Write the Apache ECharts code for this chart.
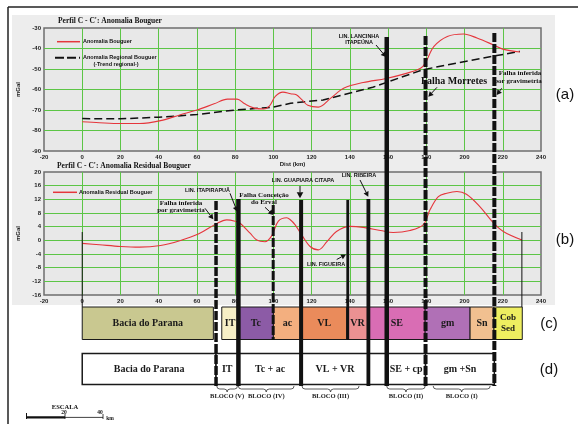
<!DOCTYPE html>
<html><head><meta charset="utf-8">
<script src="https://cdn.jsdelivr.net/npm/echarts@6/dist/echarts.min.js"></script>
<style>html,body{margin:0;padding:0;background:#fff}#c{width:578px;height:424px}</style>
</head><body><div id="c"></div><script>
// ---------------- DATA ----------------
const bouguerKm  = [0, 9, 20, 30, 41, 51, 60, 69, 76, 81, 85, 90, 95, 98, 101, 105, 109, 112, 115, 118, 123.5, 130, 137, 147, 159, 170, 177, 179.5, 184, 191, 199.5, 206.5, 215, 220, 229];
const bouguerVal = [-75.7, -76.2, -76.6, -76.6, -75.2, -72.4, -70, -67, -64.7, -64.7, -67, -69.1, -69.5, -68, -63.4, -61.3, -62.1, -62.6, -65.1, -67.7, -68.6, -64.2, -59.3, -56.6, -54.6, -52, -49.6, -47.1, -39, -34.1, -32.9, -34.9, -38.2, -40.3, -41.7];
const regionalKm  = [0, 20, 40, 50, 60, 80, 100, 109, 126, 152, 178, 203, 229];
const regionalVal = [-74.2, -74.3, -73.5, -72.9, -72.2, -70, -68.6, -66.7, -65.1, -58.9, -50.4, -45.8, -41.4];
const residualKm  = [0, 9, 20, 30, 41, 51, 61, 70, 75.6, 80, 82.6, 87.8, 91.3, 95.6, 99.1, 102.6, 107, 108.7, 111.3, 114.8, 119.2, 123.5, 128, 133, 140, 147, 156, 162.7, 171.5, 178.5, 182, 186.3, 190.7, 196, 201, 208, 215, 220.3, 230];
const residualVal = [-0.9, -1.3, -1.8, -2.0, -1.5, -0.1, 1.9, 4.8, 6.0, 5.6, 5.0, 2.1, 0.1, -0.4, 1.3, 5.6, 6.6, 6.1, 4.6, 1.6, -1.8, -2.8, -0.4, 2.6, 4.1, 3.8, 2.9, 2.3, 2.9, 4.6, 9.0, 12.8, 13.8, 14.3, 13.5, 9.9, 5.2, 2.6, 0.1];

const unitsC      = ['Bacia do Parana', 'IT', 'Tc', 'ac', 'VL', 'VR', 'SE', 'gm', 'Sn', 'Cob\nSed'];
const unitsCStart = [0, 73, 81.7, 100, 114.8, 138.4, 149.7, 179.4, 202.9, 215.4];
const unitsCEnd   = [68.6, 81.7, 100, 114.8, 138.4, 149.7, 179.4, 202.9, 215.4, 230.2];

const unitsD      = ['Bacia do Parana', 'IT', 'Tc + ac', 'VL + VR', '', 'SE + cp', 'gm +Sn'];
const unitsDStart = [0, 70, 81.7, 114.8, 149.7, 159.3, 179.6];
const unitsDEnd   = [70, 81.7, 114.8, 149.7, 159.3, 179.6, 215.6];

const blockNames = ['BLOCO (V)', 'BLOCO (IV)', 'BLOCO (III)', 'BLOCO (II)', 'BLOCO (I)'];
const blockStart = [70.4, 81.7, 115, 159.3, 183.6];
const blockEnd   = [81.2, 110.8, 144.8, 179.4, 213.4];

const faultKm = [0, 70, 81.7, 99.9, 114.5, 138.9, 149.7, 159.3, 179.6, 215.6, 230];

// ---------------- LAYOUT / STYLE ----------------
const GL = 44, GW = 497;
const A_TOP = 28, A_H = 123, B_TOP = 172, B_H = 123;
const C_TOP = 307, C_BOT = 339.5, D_TOP = 353.5, D_BOT = 384.5;
const faultTop    = [232, 201, 199, 205, 200, 200, 199, 37, 36, 33, 232];
const faultBottom = [307, 388, 386, 340, 386, 340, 386, 386, 386, 386, 307];
const faultWidth  = [1, 3.5, 4.5, 3, 4, 2.8, 3.8, 4.5, 4, 4, 1];
const faultDashed = [false, true, false, true, false, false, false, false, true, true, false];
const fillC = ['#c9c890', '#f6efc6', '#8c5ba6', '#f3af7f', '#ea8b5b', '#eb9192', '#d96db4', '#b070b6', '#f1c090', '#eeee60'];
const GREEN = '#5cc546';
const SERIF = "'Liberation Serif', 'DejaVu Serif', serif";
const SANS = "'Liberation Sans', Arial, sans-serif";

const pairs = (xs, ys) => xs.map((x, i) => [x, ys[i]]);

function xAx(grid, show, name) {
  return {
    gridIndex: grid, type: 'value', min: -20, max: 240, interval: 20, show: show, z: 3,
    axisLine: { show: false }, axisTick: { show: false },
    splitLine: { show: true, showMinLine: false, showMaxLine: false, lineStyle: { color: GREEN, width: 1 } },
    axisLabel: { fontSize: 6, fontWeight: 'bold', color: '#222', margin: 3, fontFamily: SANS, showMinLabel: true, showMaxLabel: true },
    name: name || '', nameLocation: 'middle', nameGap: 10,
    nameTextStyle: { fontSize: 6, fontWeight: 'bold', color: '#222', fontFamily: SANS }
  };
}
function yAx(grid, min, max, interval) {
  return {
    gridIndex: grid, type: 'value', min: min, max: max, interval: interval, z: 3,
    axisLine: { show: false }, axisTick: { show: false },
    splitLine: { show: true, showMinLine: false, showMaxLine: false, lineStyle: { color: GREEN, width: 1 } },
    axisLabel: { fontSize: 6, fontWeight: 'bold', color: '#222', margin: 3, fontFamily: SANS, showMinLabel: true, showMaxLabel: true },
    name: 'mGal', nameLocation: 'middle', nameRotate: 90, nameGap: 21,
    nameTextStyle: { fontSize: 6, fontWeight: 'bold', color: '#222', fontFamily: SANS }
  };
}

function rowRender(names, fills, yTop, yBot, font, lw) {
  return function (params, api) {
    const i = params.dataIndex;
    const p0 = api.coord([api.value(0), yTop]);
    const p1 = api.coord([api.value(1), yBot]);
    return { type: 'group', children: [
      { type: 'rect', shape: { x: p0[0], y: p0[1], width: p1[0] - p0[0], height: p1[1] - p0[1] },
        style: { fill: fills ? fills[i] : '#fff', stroke: '#1a1a1a', lineWidth: lw } },
      { type: 'text', style: { text: names[i], x: (p0[0] + p1[0]) / 2, y: (p0[1] + p1[1]) / 2,
        align: 'center', verticalAlign: 'middle', font: (names[i].indexOf('\n') >= 0 ? 'bold 9px ' + SERIF : font), fill: '#1a1a1a', lineHeight: 11 } }
    ] };
  };
}

function faultRender(params, api) {
  const i = params.dataIndex;
  const km = api.value(0);
  const t = api.coord([km, faultTop[i]]);
  const b = api.coord([km, faultBottom[i]]);
  return { type: 'line', shape: { x1: t[0], y1: t[1], x2: b[0], y2: b[1] },
    style: { stroke: '#111', lineWidth: faultWidth[i], lineDash: faultDashed[i] ? [9, 2] : null } };
}

function braceRender(params, api) {
  const i = params.dataIndex;
  const a = api.coord([api.value(0), 386]);
  const b = api.coord([api.value(1), 386]);
  const y0 = a[1], m = (a[0] + b[0]) / 2, y1 = y0 + 3, y2 = y0 + 6;
  const d = 'M' + a[0] + ',' + y0 + ' Q' + a[0] + ',' + y1 + ' ' + (a[0] + 3) + ',' + y1 +
    ' L' + (m - 3) + ',' + y1 + ' Q' + m + ',' + y1 + ' ' + m + ',' + y2 +
    ' Q' + m + ',' + y1 + ' ' + (m + 3) + ',' + y1 + ' L' + (b[0] - 3) + ',' + y1 +
    ' Q' + b[0] + ',' + y1 + ' ' + b[0] + ',' + y0;
  return { type: 'group', children: [
    { type: 'path', shape: { pathData: d }, style: { fill: null, stroke: '#333', lineWidth: 0.8 } },
    { type: 'text', style: { text: blockNames[i], x: m, y: y2 + 4, align: 'center', verticalAlign: 'middle',
      font: 'bold 6.5px ' + SERIF, fill: '#222' } }
  ] };
}

// annotation helpers
function txt(text, x, y, font, align) {
  return { type: 'text', z: 100, style: { text: text, x: x, y: y, font: font, fill: '#111', align: align || 'center', verticalAlign: 'middle' } };
}
function arrow(x1, y1, x2, y2, h) {
  h = h || 5;
  const ang = Math.atan2(y2 - y1, x2 - x1);
  const bx = x2 - h * Math.cos(ang), by = y2 - h * Math.sin(ang);
  const w = h * 0.55;
  return [
    { type: 'line', z: 100, shape: { x1: x1, y1: y1, x2: bx, y2: by }, style: { stroke: '#111', lineWidth: 1 } },
    { type: 'polygon', z: 100, shape: { points: [[x2, y2], [bx + w * Math.sin(ang), by - w * Math.cos(ang)], [bx - w * Math.sin(ang), by + w * Math.cos(ang)]] }, style: { fill: '#111' } }
  ];
}
const small = 'bold 5.5px ' + SANS;
const serif7 = 'bold 7px ' + SERIF;

const graphics = [
  { type: 'rect', z: -10, shape: { x: 12, y: 15, width: 543, height: 290 }, style: { fill: '#ededed' } },
  { type: 'line', z: 100, shape: { x1: 8, y1: 7, x2: 578, y2: 7 }, style: { stroke: '#222', lineWidth: 1.5 } },
  { type: 'line', z: 100, shape: { x1: 8, y1: 7, x2: 8, y2: 424 }, style: { stroke: '#222', lineWidth: 1.5 } },
  // titles
  txt("Perfil C - C': Anomalia Bouguer", 58, 21.5, 'bold 7.5px ' + SERIF, 'left'),
  txt("Perfil C - C': Anomalia Residual Bouguer", 57, 166.5, 'bold 7.5px ' + SERIF, 'left'),
  // legends
  { type: 'line', z: 100, shape: { x1: 57, y1: 41.7, x2: 80, y2: 41.7 }, style: { stroke: '#e5363c', lineWidth: 1.5 } },
  txt('Anomalia Bouguer', 83, 41.7, small, 'left'),
  { type: 'line', z: 100, shape: { x1: 55, y1: 57.7, x2: 80, y2: 57.7 }, style: { stroke: '#111', lineWidth: 2, lineDash: [9, 3] } },
  txt('Anomalia Regional Bouguer', 83, 57.5, small, 'left'),
  txt('(-Trend regional-)', 116, 64, small, 'center'),
  { type: 'line', z: 100, shape: { x1: 53, y1: 192.3, x2: 77, y2: 192.3 }, style: { stroke: '#e5363c', lineWidth: 1.5 } },
  txt('Anomalia Residual Bouguer', 79, 192.3, small, 'left'),
  // panel labels
  txt('(a)', 565, 95, '15px ' + SANS), txt('(b)', 565, 240, '15px ' + SANS),
  txt('(c)', 549, 324, '15px ' + SANS), txt('(d)', 549, 370, '15px ' + SANS),
  // upper annotations
  txt('LIN. LANCINHA', 359, 36.3, small), txt('ITAPEÚNA', 359, 42.7, small),
  ...arrow(376, 45, 386, 57),
  txt('Falha Morretes', 454, 81.7, 'bold 10px ' + SERIF),
  ...arrow(437, 87.3, 428.3, 96.7),
  txt('Falha inferida', 520, 72.7, serif7), txt('por gravimetria', 518, 80.7, serif7),
  ...arrow(501.7, 88.3, 496.7, 95),
  // lower annotations
  txt('Falha inferida', 181, 202.7, serif7), txt('por gravimetria', 181, 210, serif7),
  ...arrow(205, 208.3, 213.3, 219.3),
  txt('LIN. ITAPIRAPUÃ', 207.5, 190, small),
  ...arrow(230, 193.3, 237.3, 211.7),
  txt('Falha Conceição', 264, 195, serif7), txt('do Erval', 264, 202.3, serif7),
  ...arrow(265, 207.3, 273.3, 215),
  txt('LIN. GUAPIARA CITAPA', 303, 180.7, small),
  ...arrow(300, 186, 300, 198.3, 6),
  txt('LIN. RIBEIRA', 359, 175.7, small),
  ...arrow(360, 180, 368.3, 196.7),
  txt('LIN. FIGUEIRA', 326, 264, small),
  ...arrow(336.7, 259.5, 346, 254.5),
  // scale bar
  txt('ESCALA', 65, 407.3, 'bold 6.5px ' + SERIF),
  { type: 'rect', z: 100, shape: { x: 26, y: 416.3, width: 39, height: 2.2 }, style: { fill: '#111' } },
  { type: 'line', z: 100, shape: { x1: 65, y1: 417.4, x2: 103, y2: 417.4 }, style: { stroke: '#111', lineWidth: 0.8 } },
  { type: 'line', z: 100, shape: { x1: 26.5, y1: 413, x2: 26.5, y2: 419 }, style: { stroke: '#111', lineWidth: 1 } },
  { type: 'line', z: 100, shape: { x1: 65, y1: 414, x2: 65, y2: 419 }, style: { stroke: '#111', lineWidth: 0.8 } },
  { type: 'line', z: 100, shape: { x1: 103, y1: 414, x2: 103, y2: 419 }, style: { stroke: '#111', lineWidth: 0.8 } },
  txt('20', 64, 413, 'bold 5.5px ' + SERIF), txt('40', 100, 413, 'bold 5.5px ' + SERIF),
  txt('km', 110, 418.5, 'bold 5.5px ' + SERIF)
];

const option = {
  animation: false,
  backgroundColor: '#ffffff',
  grid: [
    { left: GL, top: A_TOP, width: GW, height: A_H, show: true, backgroundColor: '#e8e8e8', borderColor: '#6e6e6e', borderWidth: 1.5, z: 1 },
    { left: GL, top: B_TOP, width: GW, height: B_H, show: true, backgroundColor: '#e8e8e8', borderColor: '#6e6e6e', borderWidth: 1.5, z: 1 },
    { left: GL, top: 0, width: GW, height: 424, show: false }
  ],
  xAxis: [ xAx(0, true, 'Dist (km)'), xAx(1, true), Object.assign(xAx(2, false), { splitLine: { show: false } }) ],
  yAxis: [ yAx(0, -90, -30, 10), yAx(1, -16, 20, 4),
    { gridIndex: 2, type: 'value', min: 0, max: 424, inverse: true, show: false, splitLine: { show: false } } ],
  graphic: graphics,
  series: [
    { type: 'line', name: 'Anomalia Regional Bouguer', xAxisIndex: 0, yAxisIndex: 0, data: pairs(regionalKm, regionalVal),
      symbol: 'none', lineStyle: { color: '#111', width: 1.5, type: [8, 4] }, z: 5 },
    { type: 'line', name: 'Anomalia Bouguer', xAxisIndex: 0, yAxisIndex: 0, data: pairs(bouguerKm, bouguerVal),
      symbol: 'none', smooth: 0.35, lineStyle: { color: '#e5363c', width: 1.1 }, z: 6 },
    { type: 'line', name: 'Anomalia Residual Bouguer', xAxisIndex: 1, yAxisIndex: 1, data: pairs(residualKm, residualVal),
      symbol: 'none', smooth: 0.35, lineStyle: { color: '#e5363c', width: 1.1 }, z: 6 },
    { type: 'custom', xAxisIndex: 2, yAxisIndex: 2, z: 10, encode: { x: [0, 1] },
      data: unitsCStart.map((s, i) => [s, unitsCEnd[i]]),
      renderItem: rowRender(unitsC, fillC, C_TOP, C_BOT, 'bold 10px ' + SERIF, 1) },
    { type: 'custom', xAxisIndex: 2, yAxisIndex: 2, z: 10, encode: { x: [0, 1] },
      data: unitsDStart.map((s, i) => [s, unitsDEnd[i]]),
      renderItem: rowRender(unitsD, null, D_TOP, D_BOT, 'bold 10px ' + SERIF, 1.5) },
    { type: 'custom', xAxisIndex: 2, yAxisIndex: 2, z: 10, encode: { x: [0, 1] },
      data: blockStart.map((s, i) => [s, blockEnd[i]]), renderItem: braceRender },
    { type: 'custom', xAxisIndex: 2, yAxisIndex: 2, z: 20, encode: { x: 0 },
      data: faultKm.map(k => [k]), renderItem: faultRender }
  ]
};
const chart = echarts.init(document.getElementById('c'), null, { renderer: 'canvas' });
chart.setOption(option);
</script></body></html>
